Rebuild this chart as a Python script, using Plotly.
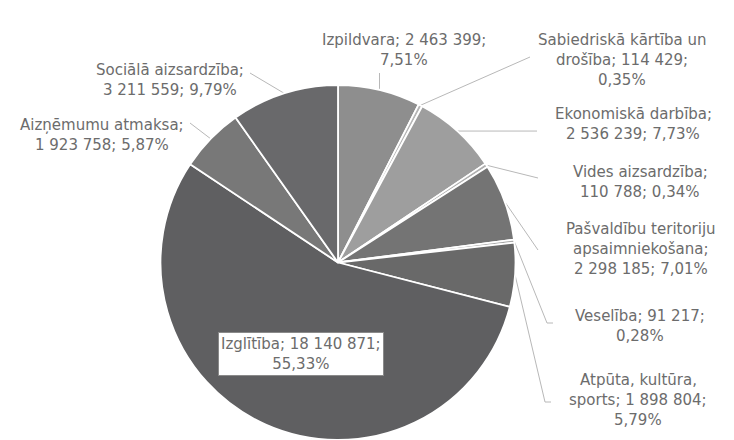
import math
import plotly.graph_objects as go

# page offset of the plot div (browser default body margin) and figure size
OFF = 8
FW, FH = 726, 432

categories = [
    "Izpildvara", "Sabiedriskā kārtība un drošība", "Ekonomiskā darbība",
    "Vides aizsardzība", "Pašvaldību teritoriju apsaimniekošana", "Veselība",
    "Atpūta, kultūra, sports", "Izglītība", "Aizņēmumu atmaksa", "Sociālā aizsardzība",
]
values = [2463399, 114429, 2536239, 110788, 2298185, 91217, 1898804, 18140871, 1923758, 3211559]
percent_labels = ["7,51%", "0,35%", "7,73%", "0,34%", "7,01%", "0,28%", "5,79%", "55,33%", "5,87%", "9,79%"]
label_texts = [
    "Izpildvara; 2 463 399;<br>7,51%",
    "Sabiedriskā kārtība un<br>drošība; 114 429;<br>0,35%",
    "Ekonomiskā darbība;<br>2 536 239; 7,73%",
    "Vides aizsardzība;<br>110 788; 0,34%",
    "Pašvaldību teritoriju<br>apsaimniekošana;<br>2 298 185; 7,01%",
    "Veselība; 91 217;<br>0,28%",
    "Atpūta, kultūra,<br>sports; 1 898 804;<br>5,79%",
    "Izglītība; 18 140 871;<br>55,33%",
    "Aizņēmumu atmaksa;<br>1 923 758; 5,87%",
    "Sociālā aizsardzība;<br>3 211 559; 9,79%",
]

colors = ["#8e8e8e", "#b5b5b5", "#9e9e9e", "#b0b0b0", "#747474", "#a8a8a8",
          "#696969", "#5f5f61", "#787878", "#69696b"]

# layout: label x centre and first-line y (window pixels), line step
label_pos = [(404, 40), (622, 40), (633, 114), (640, 172), (641, 229),
             (640, 316), (638, 380), (301, 354), (102, 125), (170, 70)]
LINE_STEP = 20
leader_ends = [
    [("px", 73)],
    [(530, 57)],
    [(537, "py")],
    [(538, 178)],
    [(538, 250)],
    [(547, 323), (553, 323)],
    [(545, 402), (551, 402)],
    None,
    [(190, 123)],
    [(250, 73)],
]

# pie placement (window pixels)
PIE_CX, PIE_TOP, PIE_R = 338, 85, 177.5
dom_x = [(PIE_CX - OFF - PIE_R) / FW, (PIE_CX - OFF + PIE_R) / FW]
dom_y = [0.0, (FH - (PIE_TOP - OFF)) / FH]

fig = go.Figure()
fig.add_trace(go.Pie(
    labels=categories, values=values, sort=False, direction="clockwise", rotation=0,
    marker=dict(colors=colors, line=dict(color="white", width=1.8)),
    textinfo="none", hoverinfo="skip", showlegend=False,
    domain=dict(x=dom_x, y=dom_y),
))

# pie geometry in window pixels
cx = OFF + (dom_x[0] + dom_x[1]) / 2 * FW
cy = OFF + FH - (dom_y[0] + dom_y[1]) / 2 * FH
R = min((dom_x[1] - dom_x[0]) * FW, (dom_y[1] - dom_y[0]) * FH) / 2
total = sum(values)
cum = 0
mids = []
for v in values:
    mids.append((cum + v / 2) / total * 2 * math.pi)
    cum += v

for i, ends in enumerate(leader_ends):
    if ends is None:
        continue
    th = mids[i]
    px = cx + R * math.sin(th)
    py = cy - R * math.cos(th)
    xs, ys = [px], [py]
    for ex, ey in ends:
        xs.append(px if ex == "px" else ex)
        ys.append(py if ey == "py" else ey)
    fig.add_trace(go.Scatter(x=xs, y=ys, mode="lines", line=dict(color="#b8b8b8", width=1),
                             hoverinfo="skip", showlegend=False))

FONT = dict(family="DejaVu Sans", size=15, color="#6c6c6c")
for i, t in enumerate(label_texts):
    x, y = label_pos[i]
    if i == 7:
        fig.add_annotation(x=x, y=y, xref="x", yref="y", text=t, showarrow=False,
                           align="center", xanchor="center", yanchor="middle", font=FONT,
                           bgcolor="white", bordercolor="#8a8a8a", borderwidth=1, borderpad=2)
        continue
    for k, line in enumerate(t.split("<br>")):
        fig.add_annotation(x=x, y=y + k * LINE_STEP, xref="x", yref="y", text=line,
                           showarrow=False, xanchor="center", yanchor="middle", font=FONT)

fig.update_layout(
    width=FW, height=FH, margin=dict(l=0, r=0, t=0, b=0),
    paper_bgcolor="white", plot_bgcolor="rgba(0,0,0,0)",
    xaxis=dict(range=[OFF, OFF + FW], visible=False, domain=[0, 1], fixedrange=True),
    yaxis=dict(range=[OFF + FH, OFF], visible=False, domain=[0, 1], fixedrange=True),
)
fig.write_html("out.html", config={"displayModeBar": False})
